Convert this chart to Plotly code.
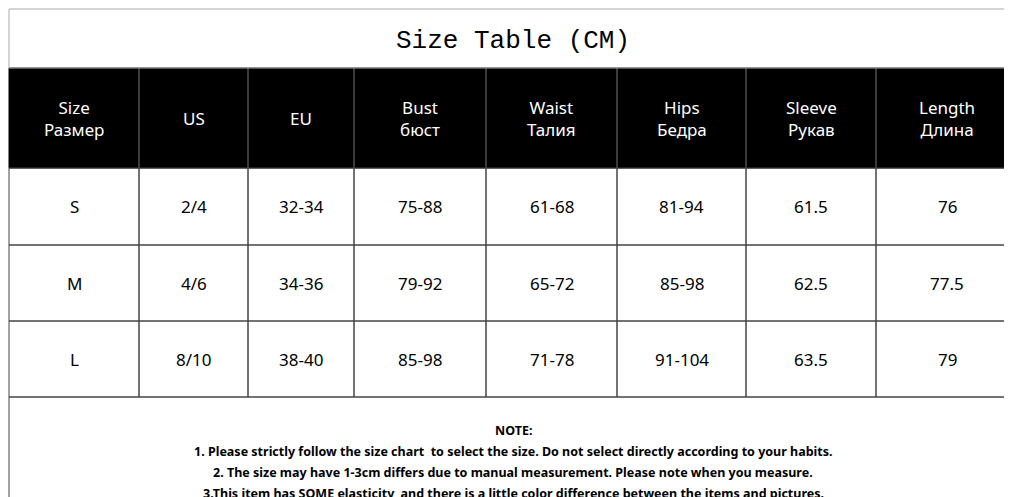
import plotly.graph_objects as go

W, H = 1012, 497

headers = ["Size<br>Размер", "US", "EU", "Bust<br>бюст", "Waist<br>Талия",
           "Hips<br>Бедра", "Sleeve<br>Рукав", "Length<br>Длина"]
sizes = ["S", "M", "L"]
us = ["2/4", "4/6", "8/10"]
eu = ["32-34", "34-36", "38-40"]
bust = ["75-88", "79-92", "85-98"]
waist = ["61-68", "65-72", "71-78"]
hips = ["81-94", "85-98", "91-104"]
sleeve = ["61.5", "62.5", "63.5"]
length = ["76", "77.5", "79"]
col_edges = [1, 131, 240, 346, 478, 609, 738, 868, 1010]
row_edges = [60, 160, 237, 313, 389]
notes = [
    "NOTE:",
    "1. Please strictly follow the size chart  to select the size. Do not select directly according to your habits.",
    "2. The size may have 1-3cm differs due to manual measurement. Please note when you measure.",
    "3.This item has SOME elasticity, and there is a little color difference between the items and pictures.",
]

font = "Noto Sans"
columns = [sizes, us, eu, bust, waist, hips, sleeve, length]
fig = go.Figure()

# header background
fig.add_shape(type="rect", x0=col_edges[0], x1=col_edges[-1], y0=row_edges[0], y1=row_edges[1],
              fillcolor="black", line=dict(color="black", width=1))
for c in range(len(headers)):
    x0, x1 = col_edges[c], col_edges[c + 1]
    fig.add_shape(type="line", x0=x1, x1=x1, y0=row_edges[0], y1=row_edges[1],
                  line=dict(color="#777", width=1))
    fig.add_annotation(text=headers[c], x=(x0 + x1) / 2, y=(row_edges[0] + row_edges[1]) / 2,
                       showarrow=False, font=dict(size=17, family=font, color="white"))
    for r in range(3):
        y0, y1 = row_edges[r + 1], row_edges[r + 2]
        fig.add_shape(type="rect", x0=x0, x1=x1, y0=y0, y1=y1,
                      line=dict(color="#444", width=1))
        fig.add_annotation(text=columns[c][r], x=(x0 + x1) / 2, y=(y0 + y1) / 2,
                           showarrow=False, font=dict(size=17, family=font, color="black"))

# notes box
fig.add_shape(type="rect", x0=col_edges[0], x1=col_edges[-1], y0=row_edges[-1], y1=495,
              line=dict(color="#444", width=1))
for i, t in enumerate(notes):
    fig.add_annotation(text="<b>%s</b>" % t, x=505, y=422 + 21 * i, showarrow=False,
                       font=dict(size=12.5, family=font, color="black"))

fig.add_annotation(text="Size Table (CM)", x=505, y=33, showarrow=False,
                   font=dict(size=26, family="Liberation Mono", color="black"))
fig.add_shape(type="rect", x0=1, x1=1010, y0=1, y1=60, line=dict(color="#aaa", width=1))

fig.update_xaxes(range=[0, W], visible=False)
fig.update_yaxes(range=[H, 0], visible=False)
fig.update_layout(width=W, height=H, margin=dict(l=0, r=0, t=0, b=0),
                  paper_bgcolor="white", plot_bgcolor="white", showlegend=False)
fig.write_html("out.html")
